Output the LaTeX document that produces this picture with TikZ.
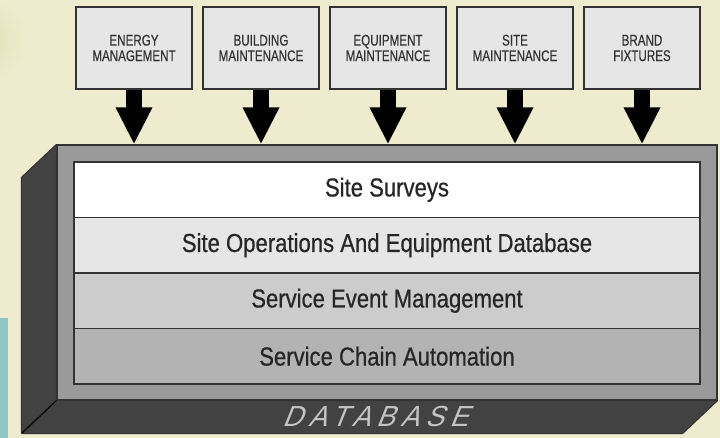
\documentclass[tikz,border=0pt]{standalone}
\usepackage{fontspec}
\setmainfont{Liberation Sans}
\newfontfamily\bandfont[FakeStretch=0.85,FakeBold=0.6]{Liberation Sans}
\newfontfamily\topfont[FakeStretch=0.75,FakeBold=0.4]{Liberation Sans}
\newfontfamily\dbfont[FakeSlant=0.4,FakeStretch=0.95,LetterSpace=21]{Liberation Sans}
\usetikzlibrary{arrows.meta}
\definecolor{bg}{HTML}{EFEBCE}
\definecolor{blob}{HTML}{DCE4B4}
\definecolor{teal}{HTML}{8EC7C6}
\definecolor{facegray}{HTML}{9A9A9A}
\definecolor{darkside}{HTML}{424242}
\definecolor{edge}{HTML}{333333}
\definecolor{topfill}{HTML}{E6E6E6}
\definecolor{bandA}{HTML}{FFFFFF}
\definecolor{bandB}{HTML}{E6E6E6}
\definecolor{bandC}{HTML}{CCCCCC}
\definecolor{bandD}{HTML}{B3B3B3}
\definecolor{dbtext}{HTML}{C4C4C4}
\tikzset{
  topbox/.style={draw=edge, line width=1.2pt, fill=topfill, minimum width=116pt, minimum height=82pt,
     inner sep=0pt, align=center, font=\topfont\fontsize{15.5}{15.5}\selectfont, text=black!80},
  band/.style={draw=edge, line width=1.2pt, minimum width=626pt, minimum height=55.5pt, inner sep=0pt,
     font=\bandfont\fontsize{26}{28}\selectfont, text=black!85},
  bigarrow/.style={line width=16pt, -{Triangle[width=34pt,length=37pt]}, black},
}
\begin{document}
\begin{tikzpicture}[x=1pt,y=-1pt]
\fill[bg] (0,0) rectangle (720,438);
\useasboundingbox (0,0) rectangle (720,438);
\shade[inner color=blob, outer color=bg] (-14,40) circle (40);
\fill[teal] (0,318) rectangle (8,438);

% front face of the database block
\node[draw=edge, line width=1.2pt, fill=facegray, minimum width=660pt, minimum height=255pt, inner sep=0pt]
  (face) at (387,272.5) {};
% left and bottom faces
\filldraw[fill=darkside, draw=edge, line width=1pt, line join=round]
  (face.north west) -- ++(-35,33) -- ++(0,255) -- (face.south west) -- cycle;
\filldraw[fill=darkside, draw=edge, line width=1pt, line join=round]
  (face.south west) -- (face.south east) -- ++(-35,33) -- ++(-660,0) -- cycle;
\draw[black, line width=1pt] (face.south west) -- ++(-35,33);
\node[font=\dbfont\fontsize{29}{29}\selectfont, text=dbtext] (db) at (375,417) {DATABASE};

% layers
\node[band, fill=bandA] (l1) at (387,189.75) {Site Surveys};
\node[band, fill=bandB] (l2) at (387,245.25) {Site Operations And Equipment Database};
\node[band, fill=bandC] (l3) at (387,300.75) {Service Event Management};
\node[band, fill=bandD] (l4) at (387,356.25) {Service Chain Automation};

% top inputs
\node[topbox] (t1) at (134,48) {ENERGY\\MANAGEMENT};
\node[topbox] (t2) at (261,48) {BUILDING\\MAINTENANCE};
\node[topbox] (t3) at (388,48) {EQUIPMENT\\MAINTENANCE};
\node[topbox] (t4) at (515,48) {SITE\\MAINTENANCE};
\node[topbox] (t5) at (642,48) {BRAND\\FIXTURES};

\foreach \t in {t1,t2,t3,t4,t5}
  \draw[bigarrow] (\t.south) -- (\t.south |- face.north);
\end{tikzpicture}
\end{document}
